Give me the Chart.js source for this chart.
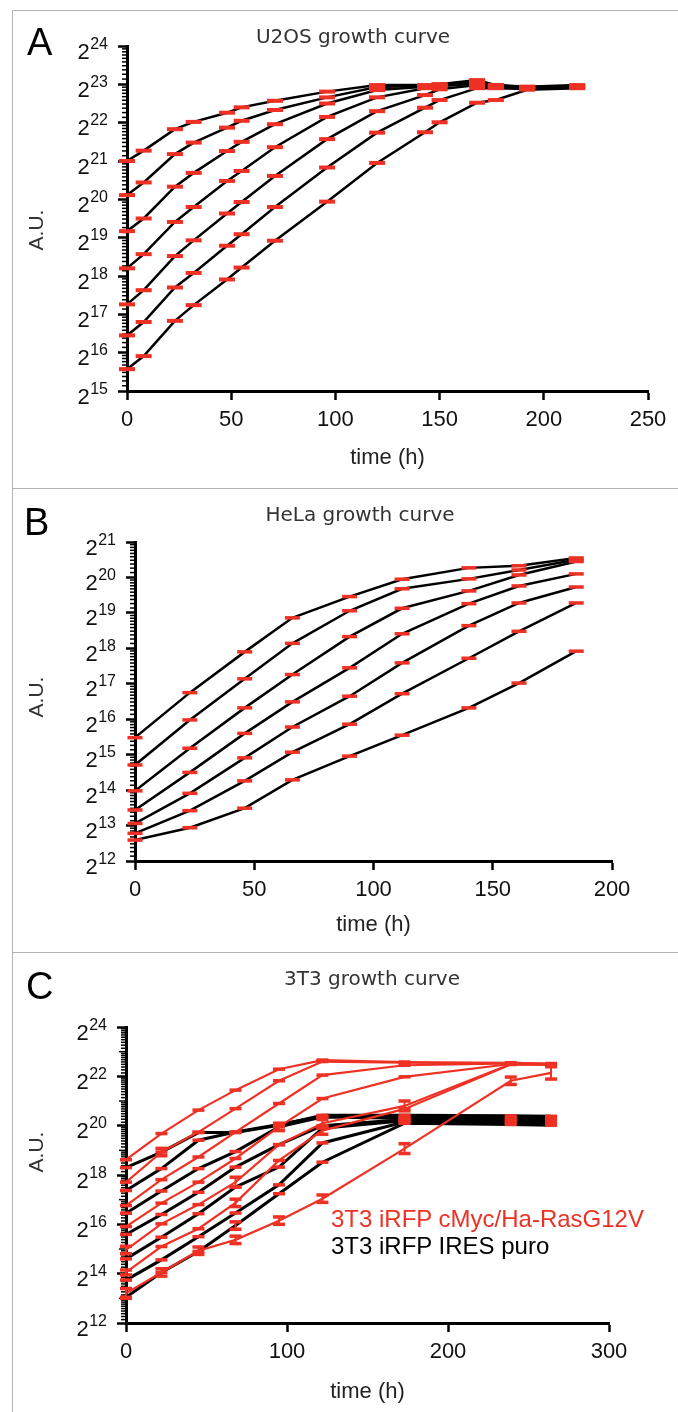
<!DOCTYPE html>
<html>
<head>
<meta charset="utf-8">
<script src="https://cdn.jsdelivr.net/npm/chart.js@4.4.1/dist/chart.umd.min.js"></script>
<style>
html,body{margin:0;padding:0;background:#fff;}
#page{position:relative;width:678px;height:1412px;overflow:hidden;background:#fff;}
canvas{position:absolute;left:0;}
.frame{position:absolute;background:#b4b4b4;}
.txt{position:absolute;white-space:nowrap;}
.letter{font-family:"Liberation Sans",Arial,sans-serif;font-size:38px;line-height:38px;color:#000;}
.ttl{font-family:"DejaVu Sans",sans-serif;font-size:20px;line-height:24px;color:#333;transform:translateX(-50%);}
.au{font-family:"Liberation Sans",Arial,sans-serif;font-size:21px;line-height:21px;color:#333;transform:translate(-50%,-50%) rotate(-90deg);}
.leg{font-family:"Liberation Sans",Arial,sans-serif;font-size:24px;line-height:24px;}
</style>
</head>
<body>
<div id="page">
  <div class="frame" style="left:12px;top:10px;width:1px;height:1402px"></div>
  <div class="frame" style="left:12px;top:10px;width:666px;height:1px"></div>
  <div class="frame" style="left:12px;top:488px;width:666px;height:1px"></div>
  <div class="frame" style="left:12px;top:952px;width:666px;height:1px"></div>

  <canvas id="cA" width="678" height="488" style="top:0px"></canvas>
  <canvas id="cB" width="678" height="464" style="top:488px"></canvas>
  <canvas id="cC" width="678" height="460" style="top:952px"></canvas>

  <div class="txt letter" style="left:27px;top:23px">A</div>
  <div class="txt letter" style="left:24px;top:503px">B</div>
  <div class="txt letter" style="left:26px;top:967px">C</div>

  <div class="txt ttl" style="left:353px;top:24px">U2OS growth curve</div>
  <div class="txt ttl" style="left:360px;top:502px">HeLa growth curve</div>
  <div class="txt ttl" style="left:372px;top:966px">3T3 growth curve</div>

  <div class="txt au" style="left:35px;top:230px">A.U.</div>
  <div class="txt au" style="left:35px;top:697px">A.U.</div>
  <div class="txt au" style="left:35px;top:1152px">A.U.</div>

  <div class="txt leg" style="left:331px;top:1207px;color:#ee3124">3T3 iRFP cMyc/Ha-RasG12V</div>
  <div class="txt leg" style="left:331px;top:1234px;color:#000">3T3 iRFP IRES puro</div>
</div>

<script>
// ---------------- DATA (values are log2 of A.U.) ----------------
// Panel A: U2OS
const u2osTime = [0, 8, 23, 32, 48, 55, 71, 96, 120, 143, 150, 168, 177, 192, 216];
const u2osS1 = [21.00, 21.27, 21.83, 22.02, 22.26, 22.40, 22.57, 22.81, 22.98, 22.98, 23.00, 23.11, 22.98, 22.94, 22.98];
const u2osS2 = [20.11, 20.44, 21.18, 21.48, 21.87, 22.05, 22.33, 22.66, 22.93, 22.96, 23.00, 23.08, 22.98, 22.92, 22.96];
const u2osS3 = [19.17, 19.50, 20.33, 20.69, 21.26, 21.50, 21.96, 22.50, 22.85, 22.94, 22.98, 23.05, 22.96, 22.92, 22.95];
const u2osS4 = [18.20, 18.57, 19.41, 19.80, 20.48, 20.74, 21.36, 22.15, 22.66, 22.90, 22.95, 23.02, 22.95, 22.90, 22.94];
const u2osS5 = [17.26, 17.63, 18.52, 18.93, 19.63, 19.93, 20.61, 21.57, 22.30, 22.72, 22.87, 22.98, 22.93, 22.90, 22.93];
const u2osS6 = [16.45, 16.80, 17.70, 18.08, 18.79, 19.09, 19.80, 20.83, 21.74, 22.39, 22.59, 22.90, 22.90, 22.88, 22.92];
const u2osS7 = [15.57, 15.91, 16.83, 17.24, 17.91, 18.22, 18.92, 19.94, 20.95, 21.75, 22.01, 22.52, 22.59, 22.86, 22.90];

// Panel B: HeLa
const helaTime = [0, 23, 46, 66, 90, 112, 140, 161, 185];
const helaS1 = [15.48, 16.75, 17.90, 18.86, 19.46, 19.95, 20.27, 20.33, 20.55];
const helaS2 = [14.71, 15.98, 17.14, 18.14, 19.06, 19.68, 19.96, 20.21, 20.50];
const helaS3 = [13.98, 15.18, 16.32, 17.26, 18.33, 19.13, 19.62, 20.07, 20.45];
const helaS4 = [13.44, 14.50, 15.60, 16.49, 17.45, 18.41, 19.26, 19.76, 20.10];
const helaS5 = [13.06, 13.91, 14.91, 15.78, 16.65, 17.59, 18.64, 19.28, 19.73];
const helaS6 = [12.78, 13.42, 14.26, 15.07, 15.86, 16.72, 17.72, 18.48, 19.28];
const helaS7 = [12.59, 12.94, 13.49, 14.29, 14.96, 15.55, 16.32, 17.02, 17.92];

// Panel C: 3T3
const t3t3Time = [0, 22, 45, 68, 95, 122, 173, 239, 264];
// 3T3 iRFP cMyc/Ha-RasG12V (red)
const rasR1 = [18.62, 19.68, 20.63, 21.44, 22.29, 22.66, 22.58, 22.55, 22.52];
const rasR2 = [17.71, 18.93, 19.74, 20.69, 21.82, 22.60, 22.55, 22.52, 22.50];
const rasR3 = [16.76, 17.81, 18.73, 19.74, 20.90, 22.05, 22.45, 22.52, 22.50];
const rasR4 = [15.91, 16.86, 17.71, 18.67, 19.95, 21.10, 21.98, 22.50, 22.48];
const rasR5 = [14.96, 16.02, 16.80, 17.71, 19.23, 20.10, 20.80, 22.50, 22.48];
const rasR6 = [14.05, 15.10, 15.82, 16.87, 18.59, 19.80, 20.68, 22.48, 22.46];
const rasR7 = [13.20, 14.05, 14.93, 15.37, 16.15, 17.04, 19.07, 21.82, 22.14];
// error (log2 units) where visible
const rasE2 = [0, 0.15, 0, 0, 0, 0, 0, 0, 0];
const rasE4 = [0, 0, 0, 0, 0.15, 0, 0, 0, 0];
const rasE5 = [0.15, 0, 0, 0.2, 0, 0.15, 0.2, 0, 0];
const rasE6 = [0.1, 0, 0, 0.15, 0, 0.15, 0, 0, 0];
const rasE7 = [0.2, 0.15, 0.15, 0.15, 0.15, 0.15, 0.2, 0.15, 0.25];
// 3T3 iRFP IRES puro (black)
const puroB1 = [18.30, 18.93, 19.72, 19.72, 20.02, 20.42, 20.42, 20.40, 20.38];
const puroB2 = [17.37, 18.26, 19.41, 19.74, 20.05, 20.38, 20.36, 20.33, 20.31];
const puroB3 = [16.45, 17.35, 18.26, 18.95, 19.95, 20.35, 20.30, 20.27, 20.25];
const puroB4 = [15.59, 16.40, 17.30, 18.32, 19.23, 20.00, 20.25, 20.22, 20.19];
const puroB5 = [14.60, 15.48, 16.43, 17.51, 18.32, 19.90, 20.20, 20.16, 20.13];
const puroB6 = [13.74, 14.56, 15.50, 16.46, 17.60, 19.30, 20.15, 20.10, 20.07];
const puroB7 = [13.04, 14.05, 14.90, 15.95, 17.24, 18.52, 20.10, 20.05, 20.02];
const puroE7 = [0, 0, 0, 0.15, 0, 0, 0, 0, 0];

// axis tick ranges [min, max, step]
const xTicksA = [0, 250, 50];
const xTicksB = [0, 200, 50];
const xTicksC = [0, 300, 100];
const yExpA = [15, 24, 1];
const yExpB = [12, 21, 1];
const yExpC = [12, 24, 2];

// ---------------- STYLE ----------------
const RED = '#ee3124';

// y tick labels "2" with superscript exponent, drawn at the scale's tick positions
const pow2LabelsPlugin = {
  id: 'pow2Labels',
  afterDraw(chart) {
    const ys = chart.scales.y, ctx = chart.ctx;
    const xr = chart.chartArea.left - 19;
    ctx.save();
    ctx.fillStyle = '#111';
    ctx.textAlign = 'right';
    ctx.textBaseline = 'alphabetic';
    ys.ticks.forEach(t => {
      const y = ys.getPixelForValue(t.value);
      const exp = String(Math.round(t.value));
      ctx.font = '16px "Liberation Sans", Arial, sans-serif';
      const ew = ctx.measureText(exp).width;
      ctx.fillText(exp, xr, y + 2.5);
      ctx.font = '22px "Liberation Sans", Arial, sans-serif';
      ctx.fillText('2', xr - ew - 0.5, y + 12.5);
    });
    ctx.restore();
  }
};

const capsPlugin = {
  id: 'caps',
  afterDatasetsDraw(chart, args, opts) {
    const ctx = chart.ctx, ys = chart.scales.y;
    ctx.save();
    ctx.fillStyle = opts.color;
    chart.data.datasets.forEach((ds, i) => {
      const meta = chart.getDatasetMeta(i);
      const err = ds.errors || [];
      meta.data.forEach((pt, j) => {
        const e = err[j] || 0;
        const w = opts.width, h = opts.height;
        if (e > 0) {
          const v = ds.data[j].y;
          const yT = ys.getPixelForValue(v + e), yB = ys.getPixelForValue(v - e);
          ctx.fillRect(pt.x - 1, yT, 2, yB - yT);
          ctx.fillRect(pt.x - w / 2, yT - h / 2, w, h);
          ctx.fillRect(pt.x - w / 2, yB - h / 2, w, h);
        } else {
          ctx.fillRect(pt.x - w / 2, pt.y - h / 2, w, h);
        }
      });
    });
    ctx.restore();
  }
};

const minorTicksPlugin = {
  id: 'minorTicks',
  beforeDatasetsDraw(chart, args, opts) {
    const ys = chart.scales.y, ctx = chart.ctx;
    const x0 = chart.chartArea.left;
    ctx.save();
    ctx.strokeStyle = '#000';
    ctx.lineWidth = 1.5;
    for (let n = ys.min; n < ys.max; n++) {
      if (opts.step === 2 && (n - ys.min) % 2 === 1) {
        const y = ys.getPixelForValue(n);
        ctx.beginPath(); ctx.moveTo(x0 - 7, y); ctx.lineTo(x0, y); ctx.stroke();
      }
      for (let k = 1; k <= 9; k++) {
        const y = ys.getPixelForValue(n + Math.log2(1 + k / 10));
        ctx.beginPath(); ctx.moveTo(x0 - 5, y); ctx.lineTo(x0, y); ctx.stroke();
      }
    }
    ctx.restore();
  }
};

function series(times, vals, color, width, errors) {
  return {
    data: times.map((t, i) => ({ x: t, y: vals[i] })),
    borderColor: color, borderWidth: width, pointRadius: 0, tension: 0,
    fill: false, errors: errors || null
  };
}

function makeOptions(c) {
  return {
    responsive: false, animation: false, events: [],
    layout: { padding: c.pad },
    plugins: {
      legend: { display: false }, tooltip: { enabled: false }, title: { display: false },
      caps: { color: RED, width: c.capW, height: c.capH },
      minorTicks: { step: c.yr[2] }
    },
    scales: {
      x: {
        type: 'linear', min: c.xr[0], max: c.xr[1],
        ticks: { stepSize: c.xr[2], font: { family: 'Liberation Sans', size: 22 }, color: '#111', padding: 7, maxRotation: 0, autoSkip: false },
        grid: { drawOnChartArea: false, drawTicks: true, tickLength: 9, tickWidth: 2.5, tickColor: '#000' },
        border: { display: true, width: 3, color: '#000' },
        title: { display: true, text: 'time (h)', font: { family: 'Liberation Sans', size: 22 }, color: '#222', padding: 0 },
        afterFit(s) { s.height = c.xH; }
      },
      y: {
        type: 'linear', min: c.yr[0], max: c.yr[1],
        ticks: { stepSize: c.yr[2], display: false, autoSkip: false },
        grid: { drawOnChartArea: false, drawTicks: true, tickLength: 9, tickWidth: 2.5, tickColor: '#000' },
        border: { display: true, width: 3, color: '#000' },
        afterFit(s) { s.width = 100; }
      }
    }
  };
}

Chart.register(capsPlugin, minorTicksPlugin, pow2LabelsPlugin);

new Chart(document.getElementById('cA'), {
  type: 'line',
  data: { datasets: [u2osS1, u2osS2, u2osS3, u2osS4, u2osS5, u2osS6, u2osS7].map(v => series(u2osTime, v, '#000', 2.5)) },
  options: makeOptions({ pad: { left: 27, right: 30, top: 46, bottom: 16.8 }, xH: 80.2, xr: xTicksA, yr: yExpA, capW: 16, capH: 4 })
});

new Chart(document.getElementById('cB'), {
  type: 'line',
  data: { datasets: [helaS1, helaS2, helaS3, helaS4, helaS5, helaS6, helaS7].map(v => series(helaTime, v, '#000', 2.5)) },
  options: makeOptions({ pad: { left: 35, right: 66, top: 54, bottom: 13.8 }, xH: 77.2, xr: xTicksB, yr: yExpB, capW: 15, capH: 3.5 })
});

const redSets = [[rasR1], [rasR2, rasE2], [rasR3], [rasR4, rasE4], [rasR5, rasE5], [rasR6, rasE6], [rasR7, rasE7]]
  .map(p => series(t3t3Time, p[0], RED, 2.2, p[1]));
const blackSets = [[puroB1], [puroB2], [puroB3], [puroB4], [puroB5], [puroB6], [puroB7, puroE7]]
  .map(p => series(t3t3Time, p[0], '#000', 3, p[1]));

new Chart(document.getElementById('cC'), {
  type: 'line',
  data: { datasets: redSets.concat(blackSets) },
  options: makeOptions({ pad: { left: 26, right: 69, top: 75, bottom: 6.8 }, xH: 82.2, xr: xTicksC, yr: yExpC, capW: 12, capH: 3.5 })
});
</script>
</body>
</html>
